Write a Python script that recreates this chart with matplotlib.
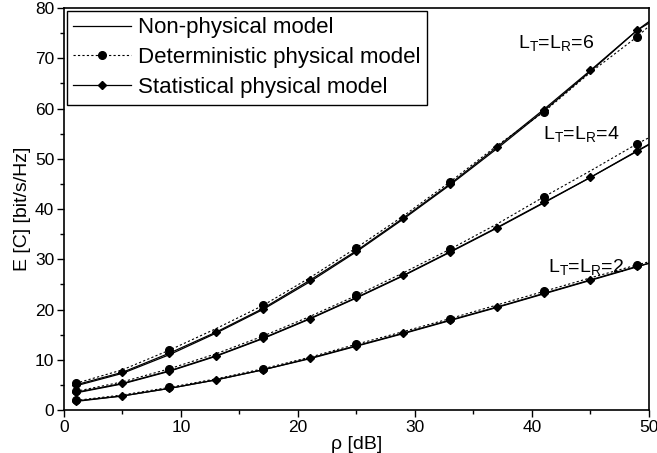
import matplotlib
matplotlib.use("Agg")
import matplotlib.pyplot as plt
from matplotlib.ticker import MultipleLocator

plt.rcParams["font.family"] = ["Liberation Sans", "DejaVu Sans"]
plt.rcParams["mathtext.fontset"] = "custom"
plt.rcParams["mathtext.rm"] = "Liberation Sans"

rho = [1, 5, 9, 13, 17, 21, 25, 29, 33, 37, 41, 45, 49, 50]

# L_T = L_R = 6
nonphys_6 = [4.8, 7.3, 11.0, 15.3, 20.0, 25.5, 31.5, 38.0, 44.8, 52.0, 59.5, 67.4, 75.6, 77.3]
det_6 = [5.3, 8.0, 11.9, 16.2, 20.8, 26.3, 32.3, 38.6, 45.4, 52.6, 59.3, 67.2, 74.3, 76.4]
stat_6 = [5.0, 7.5, 11.3, 15.5, 20.2, 25.8, 31.7, 38.2, 45.0, 52.3, 59.8, 67.6, 75.6, 77.0]

# L_T = L_R = 4
nonphys_4 = [3.4, 5.2, 7.7, 10.7, 14.2, 18.1, 22.3, 26.7, 31.4, 36.2, 41.2, 46.3, 51.6, 52.9]
det_4 = [3.7, 5.6, 8.2, 11.2, 14.7, 18.6, 22.8, 27.3, 32.0, 37.0, 42.4, 47.6, 53.0, 54.2]
stat_4 = [3.5, 5.3, 7.8, 10.8, 14.3, 18.2, 22.4, 26.8, 31.5, 36.3, 41.3, 46.3, 51.5, 52.8]

# L_T = L_R = 2
nonphys_2 = [1.7, 2.8, 4.3, 6.0, 8.0, 10.2, 12.7, 15.2, 17.8, 20.4, 23.1, 25.8, 28.5, 29.2]
det_2 = [1.9, 3.0, 4.5, 6.2, 8.2, 10.5, 13.1, 15.6, 18.2, 20.9, 23.6, 26.3, 28.9, 29.5]
stat_2 = [1.8, 2.8, 4.3, 6.0, 8.0, 10.3, 12.8, 15.3, 17.9, 20.5, 23.2, 25.9, 28.6, 29.2]

groups = [
    (nonphys_6, det_6, stat_6),
    (nonphys_4, det_4, stat_4),
    (nonphys_2, det_2, stat_2),
]
group_labels = ["L$_\\mathrm{T}$=L$_\\mathrm{R}$=6",
                "L$_\\mathrm{T}$=L$_\\mathrm{R}$=4",
                "L$_\\mathrm{T}$=L$_\\mathrm{R}$=2"]
label_pos = [(38.8, 72.8), (40.9, 54.7), (41.4, 28.3)]

# markers only on the sampled points (the last point just closes the curve at 50 dB)
det_marks = list(range(0, 13, 2))
stat_marks = list(range(0, 13))

fig = plt.figure(figsize=(6.57, 4.53), dpi=100)
ax = fig.add_axes([0.0974, 0.0949, 0.8904, 0.8874])

for i, (nonphys, det, stat) in enumerate(groups):
    ax.plot(rho, nonphys, color="black", linewidth=0.9,
            label="Non-physical model" if i == 0 else None)
    ax.plot(rho, det, color="black", linewidth=0.8, linestyle=(0, (2, 2)),
            marker="o", markersize=5.5, markevery=det_marks,
            label="Deterministic physical model" if i == 0 else None)
    ax.plot(rho, stat, color="black", linewidth=0.9,
            marker="D", markersize=4.5, markevery=stat_marks,
            label="Statistical physical model" if i == 0 else None)

for text, (tx, ty) in zip(group_labels, label_pos):
    ax.text(tx, ty, text, fontsize=14, va="center")

ax.set_xlim(0, 50)
ax.set_ylim(0, 80)
ax.xaxis.set_major_locator(MultipleLocator(10))
ax.xaxis.set_minor_locator(MultipleLocator(5))
ax.yaxis.set_major_locator(MultipleLocator(10))
ax.yaxis.set_minor_locator(MultipleLocator(5))
ax.tick_params(direction="out", which="major", length=5, width=1, labelsize=12.5, pad=2)
ax.tick_params(direction="out", which="minor", length=3, width=1)
for spine in ax.spines.values():
    spine.set_linewidth(1.2)

ax.set_xlabel("ρ [dB]", fontsize=14, labelpad=1)
ax.set_ylabel("E [C] [bit/s/Hz]", fontsize=14, labelpad=3)

leg = ax.legend(loc="upper left", fontsize=16, frameon=True, fancybox=False,
                edgecolor="black", handlelength=2.6, borderaxespad=0.12,
                labelspacing=0.4, handletextpad=0.3, borderpad=0.3)
leg.get_frame().set_linewidth(1.0)
leg.get_frame().set_alpha(1)

fig.savefig("out.png", dpi=100)
